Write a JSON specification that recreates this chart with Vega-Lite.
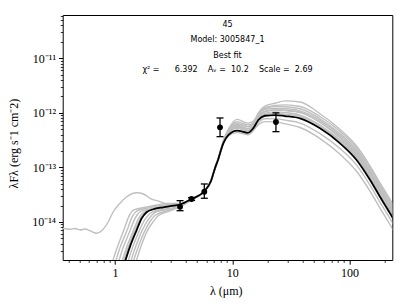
{
"$schema":"https://vega.github.io/schema/vega-lite/v6.json",
"width":329.6,"height":245,
"autosize":"none",
"padding":{"left":62.7,"top":15,"right":13.7,"bottom":44},
"config":{"view":{"stroke":"black","strokeWidth":1},"font":"DejaVu Sans"},
"datasets":{
"models":[
{"m":"g1","x":0.93,"y":1.6e-15},{"m":"g1","x":1.05,"y":3.5e-15},{"m":"g1","x":1.19,"y":7.1e-15},{"m":"g1","x":1.32,"y":1.29e-14},{"m":"g1","x":1.45,"y":1.66e-14},{"m":"g1","x":1.87,"y":1.88e-14},{"m":"g1","x":2.28,"y":2.05e-14},{"m":"g1","x":2.77,"y":2.19e-14},{"m":"g1","x":3.59,"y":2.19e-14},{"m":"g1","x":4.51,"y":2.64e-14},{"m":"g1","x":5.75,"y":3.62e-14},{"m":"g1","x":6.59,"y":5.6e-14},{"m":"g1","x":7.14,"y":9.6e-14},{"m":"g1","x":7.61,"y":1.42e-13},{"m":"g1","x":8.02,"y":2.1e-13},{"m":"g1","x":8.39,"y":2.95e-13},{"m":"g1","x":9.26,"y":4.47e-13},{"m":"g1","x":11.0,"y":6.16e-13},{"m":"g1","x":13.6,"y":5.6e-13},{"m":"g1","x":15.1,"y":6.24e-13},{"m":"g1","x":16.7,"y":9.96e-13},{"m":"g1","x":19.0,"y":1.33e-12},{"m":"g1","x":23.2,"y":1.5e-12},{"m":"g1","x":28.2,"y":1.66e-12},{"m":"g1","x":37.9,"y":1.58e-12},{"m":"g1","x":56.1,"y":9.62e-13},{"m":"g1","x":83.2,"y":4.97e-13},{"m":"g1","x":115,"y":2.47e-13},{"m":"g1","x":150,"y":1.06e-13},{"m":"g1","x":182,"y":5.22e-14},{"m":"g1","x":222,"y":2.59e-14},{"m":"g1","x":245,"y":1.8e-14},
{"m":"g2","x":0.99,"y":1.6e-15},{"m":"g2","x":1.11,"y":3.5e-15},{"m":"g2","x":1.27,"y":7.1e-15},{"m":"g2","x":1.40,"y":1.24e-14},{"m":"g2","x":1.54,"y":1.6e-14},{"m":"g2","x":1.93,"y":1.81e-14},{"m":"g2","x":2.35,"y":1.97e-14},{"m":"g2","x":2.86,"y":2.11e-14},{"m":"g2","x":3.59,"y":2.15e-14},{"m":"g2","x":4.51,"y":2.64e-14},{"m":"g2","x":5.75,"y":3.62e-14},{"m":"g2","x":6.59,"y":5.7e-14},{"m":"g2","x":7.14,"y":1.0e-13},{"m":"g2","x":7.61,"y":1.48e-13},{"m":"g2","x":8.02,"y":2.2e-13},{"m":"g2","x":8.39,"y":3.1e-13},{"m":"g2","x":9.26,"y":4.96e-13},{"m":"g2","x":11.0,"y":7.58e-13},{"m":"g2","x":13.6,"y":6.47e-13},{"m":"g2","x":15.1,"y":7.02e-13},{"m":"g2","x":16.7,"y":9.59e-13},{"m":"g2","x":19.0,"y":1.24e-12},{"m":"g2","x":23.2,"y":1.37e-12},{"m":"g2","x":28.2,"y":1.4e-12},{"m":"g2","x":37.9,"y":1.31e-12},{"m":"g2","x":56.1,"y":8.58e-13},{"m":"g2","x":83.2,"y":4.55e-13},{"m":"g2","x":115,"y":2.26e-13},{"m":"g2","x":150,"y":9.69e-14},{"m":"g2","x":182,"y":4.79e-14},{"m":"g2","x":222,"y":2.38e-14},{"m":"g2","x":245,"y":1.65e-14},
{"m":"g3","x":1.05,"y":1.6e-15},{"m":"g3","x":1.18,"y":3.5e-15},{"m":"g3","x":1.35,"y":7.1e-15},{"m":"g3","x":1.49,"y":1.19e-14},{"m":"g3","x":1.64,"y":1.54e-14},{"m":"g3","x":1.99,"y":1.74e-14},{"m":"g3","x":2.42,"y":1.9e-14},{"m":"g3","x":2.95,"y":2.03e-14},{"m":"g3","x":3.59,"y":2.11e-14},{"m":"g3","x":4.51,"y":2.64e-14},{"m":"g3","x":5.75,"y":3.55e-14},{"m":"g3","x":6.59,"y":5.5e-14},{"m":"g3","x":7.14,"y":9.6e-14},{"m":"g3","x":7.61,"y":1.45e-13},{"m":"g3","x":8.02,"y":2.15e-13},{"m":"g3","x":8.39,"y":3.03e-13},{"m":"g3","x":9.26,"y":4.72e-13},{"m":"g3","x":11.0,"y":6.87e-13},{"m":"g3","x":13.6,"y":6.03e-13},{"m":"g3","x":15.1,"y":6.5e-13},{"m":"g3","x":16.7,"y":9.59e-13},{"m":"g3","x":19.0,"y":1.19e-12},{"m":"g3","x":23.2,"y":1.3e-12},{"m":"g3","x":28.2,"y":1.29e-12},{"m":"g3","x":37.9,"y":1.19e-12},{"m":"g3","x":56.1,"y":7.8e-13},{"m":"g3","x":83.2,"y":4.14e-13},{"m":"g3","x":115,"y":2.06e-13},{"m":"g3","x":150,"y":8.81e-14},{"m":"g3","x":182,"y":4.35e-14},{"m":"g3","x":222,"y":2.16e-14},{"m":"g3","x":245,"y":1.5e-14},
{"m":"g4","x":1.12,"y":1.6e-15},{"m":"g4","x":1.26,"y":3.5e-15},{"m":"g4","x":1.44,"y":7.1e-15},{"m":"g4","x":1.59,"y":1.17e-14},{"m":"g4","x":1.75,"y":1.51e-14},{"m":"g4","x":2.06,"y":1.71e-14},{"m":"g4","x":2.50,"y":1.86e-14},{"m":"g4","x":3.05,"y":1.99e-14},{"m":"g4","x":3.59,"y":2.09e-14},{"m":"g4","x":4.51,"y":2.64e-14},{"m":"g4","x":5.75,"y":3.62e-14},{"m":"g4","x":6.59,"y":5.75e-14},{"m":"g4","x":7.14,"y":1.0e-13},{"m":"g4","x":7.61,"y":1.42e-13},{"m":"g4","x":8.02,"y":2.05e-13},{"m":"g4","x":8.39,"y":2.98e-13},{"m":"g4","x":9.26,"y":4.55e-13},{"m":"g4","x":11.0,"y":6.4e-13},{"m":"g4","x":13.6,"y":5.6e-13},{"m":"g4","x":15.1,"y":6.24e-13},{"m":"g4","x":16.7,"y":9.23e-13},{"m":"g4","x":19.0,"y":1.15e-12},{"m":"g4","x":23.2,"y":1.21e-12},{"m":"g4","x":28.2,"y":1.19e-12},{"m":"g4","x":37.9,"y":1.09e-12},{"m":"g4","x":56.1,"y":7.28e-13},{"m":"g4","x":83.2,"y":3.86e-13},{"m":"g4","x":115,"y":1.92e-13},{"m":"g4","x":150,"y":8.22e-14},{"m":"g4","x":182,"y":4.06e-14},{"m":"g4","x":222,"y":2.02e-14},{"m":"g4","x":245,"y":1.4e-14},
{"m":"g5","x":1.26,"y":1.6e-15},{"m":"g5","x":1.42,"y":3.5e-15},{"m":"g5","x":1.62,"y":7.1e-15},{"m":"g5","x":1.79,"y":1.09e-14},{"m":"g5","x":1.97,"y":1.4e-14},{"m":"g5","x":2.18,"y":1.59e-14},{"m":"g5","x":2.66,"y":1.73e-14},{"m":"g5","x":3.23,"y":1.85e-14},{"m":"g5","x":3.59,"y":2.01e-14},{"m":"g5","x":4.51,"y":2.6e-14},{"m":"g5","x":5.75,"y":3.62e-14},{"m":"g5","x":6.59,"y":5.6e-14},{"m":"g5","x":7.14,"y":9.5e-14},{"m":"g5","x":7.61,"y":1.38e-13},{"m":"g5","x":8.02,"y":2.0e-13},{"m":"g5","x":8.39,"y":2.89e-13},{"m":"g5","x":9.26,"y":4.29e-13},{"m":"g5","x":11.0,"y":5.69e-13},{"m":"g5","x":13.6,"y":5.09e-13},{"m":"g5","x":15.1,"y":5.72e-13},{"m":"g5","x":16.7,"y":8.49e-13},{"m":"g5","x":19.0,"y":1.06e-12},{"m":"g5","x":23.2,"y":1.12e-12},{"m":"g5","x":28.2,"y":1.1e-12},{"m":"g5","x":37.9,"y":1.01e-12},{"m":"g5","x":56.1,"y":6.76e-13},{"m":"g5","x":83.2,"y":3.59e-13},{"m":"g5","x":115,"y":1.78e-13},{"m":"g5","x":150,"y":7.63e-14},{"m":"g5","x":182,"y":3.77e-14},{"m":"g5","x":222,"y":1.87e-14},{"m":"g5","x":245,"y":1.3e-14},
{"m":"g6","x":1.33,"y":1.6e-15},{"m":"g6","x":1.50,"y":3.5e-15},{"m":"g6","x":1.71,"y":7.1e-15},{"m":"g6","x":1.89,"y":1.05e-14},{"m":"g6","x":2.08,"y":1.36e-14},{"m":"g6","x":2.24,"y":1.54e-14},{"m":"g6","x":2.73,"y":1.67e-14},{"m":"g6","x":3.32,"y":1.79e-14},{"m":"g6","x":3.59,"y":1.98e-14},{"m":"g6","x":4.51,"y":2.58e-14},{"m":"g6","x":5.75,"y":3.62e-14},{"m":"g6","x":6.59,"y":5.64e-14},{"m":"g6","x":7.14,"y":9.77e-14},{"m":"g6","x":7.61,"y":1.43e-13},{"m":"g6","x":8.02,"y":2.09e-13},{"m":"g6","x":8.39,"y":2.83e-13},{"m":"g6","x":9.26,"y":4.11e-13},{"m":"g6","x":11.0,"y":5.21e-13},{"m":"g6","x":13.6,"y":4.65e-13},{"m":"g6","x":15.1,"y":5.46e-13},{"m":"g6","x":16.7,"y":8.12e-13},{"m":"g6","x":19.0,"y":9.91e-13},{"m":"g6","x":23.2,"y":1.04e-12},{"m":"g6","x":28.2,"y":1.01e-12},{"m":"g6","x":37.9,"y":9.11e-13},{"m":"g6","x":56.1,"y":5.98e-13},{"m":"g6","x":83.2,"y":3.17e-13},{"m":"g6","x":115,"y":1.58e-13},{"m":"g6","x":150,"y":6.75e-14},{"m":"g6","x":182,"y":3.34e-14},{"m":"g6","x":222,"y":1.66e-14},{"m":"g6","x":245,"y":1.15e-14},
{"m":"g7","x":1.40,"y":1.6e-15},{"m":"g7","x":1.58,"y":3.5e-15},{"m":"g7","x":1.81,"y":7.1e-15},{"m":"g7","x":1.99,"y":1.02e-14},{"m":"g7","x":2.19,"y":1.31e-14},{"m":"g7","x":2.80,"y":1.62e-14},{"m":"g7","x":3.59,"y":1.95e-14},{"m":"g7","x":4.51,"y":2.55e-14},{"m":"g7","x":5.75,"y":3.6e-14},{"m":"g7","x":6.59,"y":5.8e-14},{"m":"g7","x":7.14,"y":1.02e-13},{"m":"g7","x":7.61,"y":1.48e-13},{"m":"g7","x":8.02,"y":2.12e-13},{"m":"g7","x":8.39,"y":2.92e-13},{"m":"g7","x":9.26,"y":4.38e-13},{"m":"g7","x":11.0,"y":5.93e-13},{"m":"g7","x":13.6,"y":5.17e-13},{"m":"g7","x":15.1,"y":5.72e-13},{"m":"g7","x":16.7,"y":7.97e-13},{"m":"g7","x":19.0,"y":9.38e-13},{"m":"g7","x":23.2,"y":9.76e-13},{"m":"g7","x":28.2,"y":9.44e-13},{"m":"g7","x":37.9,"y":8.63e-13},{"m":"g7","x":56.1,"y":5.72e-13},{"m":"g7","x":83.2,"y":3.04e-13},{"m":"g7","x":115,"y":1.51e-13},{"m":"g7","x":150,"y":6.46e-14},{"m":"g7","x":182,"y":3.19e-14},{"m":"g7","x":222,"y":1.58e-14},{"m":"g7","x":245,"y":1.1e-14},
{"m":"g8","x":1.15,"y":1.6e-15},{"m":"g8","x":1.30,"y":3.5e-15},{"m":"g8","x":1.48,"y":7.1e-15},{"m":"g8","x":1.64,"y":1.15e-14},{"m":"g8","x":1.80,"y":1.48e-14},{"m":"g8","x":2.09,"y":1.68e-14},{"m":"g8","x":2.54,"y":1.82e-14},{"m":"g8","x":3.09,"y":1.95e-14},{"m":"g8","x":3.59,"y":2.07e-14},{"m":"g8","x":4.51,"y":2.64e-14},{"m":"g8","x":5.75,"y":3.62e-14},{"m":"g8","x":6.59,"y":5.64e-14},{"m":"g8","x":7.14,"y":9.77e-14},{"m":"g8","x":7.61,"y":1.43e-13},{"m":"g8","x":8.02,"y":2.09e-13},{"m":"g8","x":8.39,"y":2.76e-13},{"m":"g8","x":9.26,"y":3.92e-13},{"m":"g8","x":11.0,"y":4.74e-13},{"m":"g8","x":13.6,"y":4.31e-13},{"m":"g8","x":15.1,"y":4.94e-13},{"m":"g8","x":16.7,"y":6.64e-13},{"m":"g8","x":19.0,"y":7.79e-13},{"m":"g8","x":23.2,"y":7.84e-13},{"m":"g8","x":28.2,"y":7.34e-13},{"m":"g8","x":37.9,"y":6.49e-13},{"m":"g8","x":56.1,"y":4.16e-13},{"m":"g8","x":83.2,"y":2.21e-13},{"m":"g8","x":115,"y":1.1e-13},{"m":"g8","x":150,"y":4.7e-14},{"m":"g8","x":182,"y":2.32e-14},{"m":"g8","x":222,"y":1.15e-14},{"m":"g8","x":245,"y":8.0e-15},
{"m":"g9","x":1.48,"y":1.6e-15},{"m":"g9","x":1.66,"y":3.5e-15},{"m":"g9","x":1.90,"y":7.1e-15},{"m":"g9","x":2.10,"y":9.83e-15},{"m":"g9","x":2.31,"y":1.27e-14},{"m":"g9","x":2.87,"y":1.56e-14},{"m":"g9","x":3.59,"y":1.92e-14},{"m":"g9","x":4.51,"y":2.55e-14},{"m":"g9","x":5.75,"y":3.55e-14},{"m":"g9","x":6.59,"y":5.5e-14},{"m":"g9","x":7.14,"y":9.4e-14},{"m":"g9","x":7.61,"y":1.38e-13},{"m":"g9","x":8.02,"y":2.0e-13},{"m":"g9","x":8.39,"y":2.7e-13},{"m":"g9","x":9.26,"y":3.76e-13},{"m":"g9","x":11.0,"y":4.36e-13},{"m":"g9","x":13.6,"y":3.97e-13},{"m":"g9","x":15.1,"y":4.68e-13},{"m":"g9","x":16.7,"y":6.05e-13},{"m":"g9","x":19.0,"y":6.9e-13},{"m":"g9","x":23.2,"y":6.84e-13},{"m":"g9","x":28.2,"y":6.29e-13},{"m":"g9","x":37.9,"y":5.39e-13},{"m":"g9","x":56.1,"y":3.38e-13},{"m":"g9","x":83.2,"y":1.74e-13},{"m":"g9","x":115,"y":8.49e-14},{"m":"g9","x":150,"y":3.64e-14},{"m":"g9","x":182,"y":1.8e-14},{"m":"g9","x":222,"y":8.93e-15},{"m":"g9","x":245,"y":6.2e-15},
{"m":"g10","x":0.36,"y":7.67e-15},{"m":"g10","x":0.413,"y":7.35e-15},{"m":"g10","x":0.456,"y":7.6e-15},{"m":"g10","x":0.503,"y":7.13e-15},{"m":"g10","x":0.555,"y":7.44e-15},{"m":"g10","x":0.612,"y":6.93e-15},{"m":"g10","x":0.698,"y":6.21e-15},{"m":"g10","x":0.77,"y":6.93e-15},{"m":"g10","x":0.877,"y":1.01e-14},{"m":"g10","x":0.967,"y":1.54e-14},{"m":"g10","x":1.103,"y":2.2e-14},{"m":"g10","x":1.258,"y":2.9e-14},{"m":"g10","x":1.532,"y":3.44e-14},{"m":"g10","x":1.743,"y":3.26e-14},{"m":"g10","x":1.99,"y":2.72e-14},{"m":"g10","x":2.42,"y":2.36e-14},{"m":"g10","x":2.95,"y":2.05e-14},{"m":"g10","x":3.59,"y":1.96e-14},{"m":"g10","x":4.51,"y":2.6e-14},{"m":"g10","x":5.75,"y":3.62e-14},{"m":"g10","x":6.59,"y":5.64e-14},{"m":"g10","x":7.14,"y":9.7e-14},{"m":"g10","x":7.61,"y":1.43e-13},{"m":"g10","x":8.02,"y":2.08e-13},{"m":"g10","x":8.39,"y":2.86e-13},{"m":"g10","x":9.26,"y":4.2e-13},{"m":"g10","x":11.0,"y":5.45e-13},{"m":"g10","x":13.6,"y":4.83e-13},{"m":"g10","x":15.1,"y":5.46e-13},{"m":"g10","x":16.7,"y":8.49e-13},{"m":"g10","x":19.0,"y":1.06e-12},{"m":"g10","x":23.2,"y":1.14e-12},{"m":"g10","x":28.2,"y":1.12e-12},{"m":"g10","x":37.9,"y":1.03e-12},{"m":"g10","x":56.1,"y":6.66e-13},{"m":"g10","x":83.2,"y":3.45e-13},{"m":"g10","x":115,"y":1.71e-13},{"m":"g10","x":150,"y":7.34e-14},{"m":"g10","x":182,"y":3.63e-14},{"m":"g10","x":222,"y":1.8e-14},{"m":"g10","x":245,"y":1.25e-14}
],
"best":[
{"x":1.19,"y":1.6e-15},{"x":1.34,"y":3.5e-15},{"x":1.53,"y":7.1e-15},{"x":1.69,"y":1.17e-14},{"x":1.86,"y":1.51e-14},{"x":2.12,"y":1.71e-14},{"x":2.58,"y":1.86e-14},{"x":3.14,"y":1.99e-14},{"x":3.59,"y":2.09e-14},{"x":4.51,"y":2.64e-14},{"x":5.75,"y":3.62e-14},{"x":6.59,"y":5.64e-14},{"x":7.14,"y":9.77e-14},{"x":7.61,"y":1.43e-13},{"x":8.02,"y":2.09e-13},{"x":8.39,"y":2.76e-13},{"x":9.26,"y":3.92e-13},{"x":11.0,"y":4.74e-13},{"x":13.6,"y":4.31e-13},{"x":15.1,"y":5.2e-13},{"x":16.7,"y":7.38e-13},{"x":19.0,"y":8.85e-13},{"x":23.2,"y":9.12e-13},{"x":28.2,"y":8.74e-13},{"x":37.9,"y":7.92e-13},{"x":56.1,"y":5.2e-13},{"x":83.2,"y":2.76e-13},{"x":115,"y":1.37e-13},{"x":150,"y":5.87e-14},{"x":182,"y":2.9e-14},{"x":222,"y":1.44e-14},{"x":245,"y":1.0e-14}
],
"obs":[
{"x":3.59,"y":1.91e-14,"lo":1.61e-14,"hi":2.46e-14},
{"x":4.5,"y":2.64e-14,"lo":2.48e-14,"hi":2.8e-14},
{"x":5.78,"y":3.59e-14,"lo":2.72e-14,"hi":4.97e-14},
{"x":7.87,"y":5.43e-13,"lo":3.66e-13,"hi":8.05e-13},
{"x":23.6,"y":6.8e-13,"lo":4.52e-13,"hi":1.0e-12}
],
"notes":[
{"x":9.11,"y":4.07e-11,"t":"45"},
{"x":9.11,"y":2.14e-11,"t":"Model: 3005847_1"},
{"x":9.11,"y":1.12e-11,"t":"Best fit"},
{"x":9.11,"y":6.11e-12,"t":"χ² =\u00a0\u00a0\u00a0\u00a0\u00a0\u00a06.392\u00a0\u00a0\u00a0\u00a0Aᵥ =\u00a0\u00a010.2\u00a0\u00a0\u00a0\u00a0Scale =\u00a0\u00a02.69"}
]
},
"layer":[
{"data":{"name":"models"},
 "mark":{"type":"line","clip":true,"color":"#bfbfbf","strokeWidth":1.4,"interpolate":"monotone"},
 "encoding":{
  "x":{"field":"x","type":"quantitative","scale":{"type":"log","domain":[0.358,232],"nice":false},
   "axis":{"orient":"bottom","values":[0.4,0.5,0.6,0.7,0.8,0.9,2,3,4,5,6,7,8,9,20,30,40,50,60,70,80,90,200],"tickSize":2.4,"tickColor":"black","tickWidth":0.8,"labels":false,"domain":false,"grid":false,"title":null}},
  "y":{"field":"y","type":"quantitative","scale":{"type":"log","domain":[2.01e-15,6.21e-11],"nice":false},
   "axis":{"orient":"left","values":[2e-15,3e-15,4e-15,5e-15,6e-15,7e-15,8e-15,9e-15,2e-14,3e-14,4e-14,5e-14,6e-14,7e-14,8e-14,9e-14,2e-13,3e-13,4e-13,5e-13,6e-13,7e-13,8e-13,9e-13,2e-12,3e-12,4e-12,5e-12,6e-12,7e-12,8e-12,9e-12,2e-11,3e-11,4e-11,5e-11,6e-11],"tickSize":2.4,"tickColor":"black","tickWidth":0.8,"labels":false,"domain":false,"grid":false,"title":null}},
  "detail":{"field":"m","type":"nominal"}
 }},
{"data":{"name":"best"},
 "mark":{"type":"line","clip":true,"color":"black","strokeWidth":1.8,"interpolate":"monotone"},
 "encoding":{
  "x":{"field":"x","type":"quantitative",
   "axis":{"orient":"bottom","values":[1,10,100],"format":"~g","tickSize":4.2,"tickColor":"black","tickWidth":1,"labelFont":"Liberation Serif","labelFontSize":12,"labelColor":"black","labelPadding":3,"labelFlush":false,"labelOverlap":false,"domain":false,"grid":false,
    "title":"λ (μm)","titleFont":"Liberation Serif","titleFontSize":12,"titleFontWeight":"normal","titleColor":"black","titleX":163,"titleY":30,"titleBaseline":"middle","titleAlign":"center"}},
  "y":{"field":"y","type":"quantitative",
   "axis":{"orient":"left","values":[1e-14,1e-13,1e-12,1e-11],"labelExpr":"datum.value < 5e-14 ? '10⁻¹⁴' : datum.value < 5e-13 ? '10⁻¹³' : datum.value < 5e-12 ? '10⁻¹²' : '10⁻¹¹'","tickSize":4.2,"tickColor":"black","tickWidth":1,"labelFont":"Liberation Serif","labelFontSize":12,"labelColor":"black","labelPadding":3,"labelFlush":false,"labelOverlap":false,"domain":false,"grid":false,
    "title":"λFλ (erg s⁻1 cm⁻2)","titleFont":"Liberation Serif","titleFontSize":12,"titleFontWeight":"normal","titleColor":"black","titleX":-49,"titleY":128,"titleAngle":-90,"titleBaseline":"middle","titleAlign":"center"}}
 }},
{"data":{"name":"obs"},
 "mark":{"type":"rule","color":"black","strokeWidth":1.3},
 "encoding":{"x":{"field":"x","type":"quantitative","axis":null},"y":{"field":"lo","type":"quantitative","axis":null},"y2":{"field":"hi"}}},
{"data":{"name":"obs"},
 "mark":{"type":"tick","orient":"horizontal","color":"black","size":7,"thickness":1.3,"opacity":1},
 "encoding":{"x":{"field":"x","type":"quantitative","axis":null},"y":{"field":"lo","type":"quantitative","axis":null}}},
{"data":{"name":"obs"},
 "mark":{"type":"tick","orient":"horizontal","color":"black","size":7,"thickness":1.3,"opacity":1},
 "encoding":{"x":{"field":"x","type":"quantitative","axis":null},"y":{"field":"hi","type":"quantitative","axis":null}}},
{"data":{"name":"obs"},
 "mark":{"type":"point","filled":true,"shape":"circle","size":34,"color":"black","opacity":1},
 "encoding":{"x":{"field":"x","type":"quantitative","axis":null},"y":{"field":"y","type":"quantitative","axis":null}}},
{"data":{"name":"notes"},
 "mark":{"type":"text","font":"DejaVu Sans","fontSize":8,"baseline":"middle","align":"center","color":"black"},
 "encoding":{"x":{"field":"x","type":"quantitative","axis":null},"y":{"field":"y","type":"quantitative","axis":null},"text":{"field":"t"}}}
],
"resolve":{"axis":{"x":"independent","y":"independent"}}
}
